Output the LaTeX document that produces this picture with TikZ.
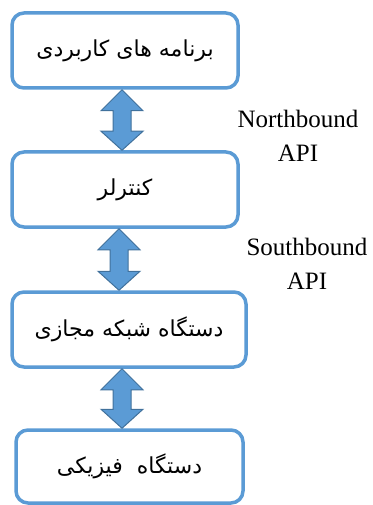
\documentclass[tikz,border=0pt]{standalone}
\usepackage{fontspec}
\setmainfont{Liberation Serif}
\newfontfamily\arabicfont[Script=Arabic]{DejaVu Sans}
\TeXXeTstate=1
\usetikzlibrary{calc}
\definecolor{boxblue}{RGB}{91,155,213}
\definecolor{arrowedge}{RGB}{65,113,156}
\tikzset{
  layer/.style={draw=boxblue,line width=3.5pt,rounded corners=12pt,fill=white,
    minimum height=75pt,font=\arabicfont\fontsize{22}{26}\selectfont},
  updown/.style={draw=arrowedge,fill=boxblue,line width=1pt,line join=miter},
  apitext/.style={align=center,font=\fontsize{25}{34}\selectfont}
}
% right-to-left label, set a little low in its box
\newcommand\fa[1]{\raisebox{-4pt}{\beginR #1\endR}}
% two-headed block arrow at x=#1 between the nodes #2 (above) and #3 (below)
\newcommand\blockarrow[3]{%
  \coordinate (t) at (#1,0 |- #2.south);
  \coordinate (b) at (#1,0 |- #3.north);
  \draw[updown] (t) -- ++(21,21) -- ++(-12,0) -- ($(b)+(9,-19)$) -- ++(12,0)
    -- (b) -- ++(-21,-19) -- ++(12,0) -- ($(t)+(-9,21)$) -- ++(-12,0) -- cycle;
}
\begin{document}
\begin{tikzpicture}[x=1pt,y=-1pt,line join=round]
  \useasboundingbox (0,0) rectangle (372,505);
  \node[layer,minimum width=226pt] (apps) at (125,50.5) {\fa{برنامه های کاربردی}};
  \node[layer,minimum width=226pt] (ctrl) at (125,189.5) {\fa{کنترلر}};
  \node[layer,minimum width=234pt] (virt) at (129,329.5) {\fa{دستگاه شبکه مجازی}};
  \node[layer,minimum width=227pt,minimum height=73pt] (phys) at (129.5,466.5) {\fa{دستگاه\ \ فیزیکی}};
  \blockarrow{122}{apps}{ctrl}
  \blockarrow{119}{ctrl}{virt}
  \blockarrow{122}{virt}{phys}
  \node[apitext] (north) at (298,136) {Northbound\\API};
  \node[apitext] (south) at (307,264) {Southbound\\API};
\end{tikzpicture}
\end{document}
